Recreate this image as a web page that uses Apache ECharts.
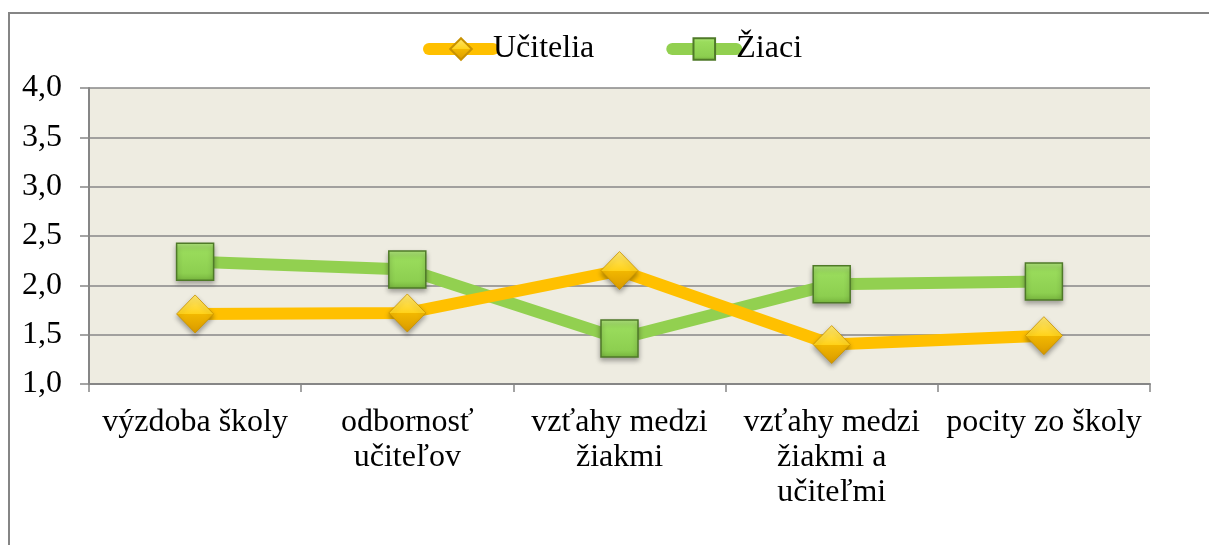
<!DOCTYPE html>
<html>
<head>
<meta charset="utf-8">
<script src="https://cdn.jsdelivr.net/npm/echarts@6/dist/echarts.min.js"></script>
<style>
html,body{margin:0;padding:0;background:#fff;}
#c{width:1209px;height:545px;}
</style>
</head>
<body>
<div id="c"></div>
<script>
const categories = ['výzdoba školy', 'odbornosť\nučiteľov', 'vzťahy medzi\nžiakmi', 'vzťahy medzi\nžiakmi a\nučiteľmi', 'pocity zo školy'];
const seriesNames = ['Učitelia', 'Žiaci'];
const ucitelia = [1.71, 1.72, 2.15, 1.40, 1.49];
const ziaci = [2.24, 2.16, 1.46, 2.01, 2.04];
const yMin = 1.0, yMax = 4.0, yStep = 0.5;

const font = 'Liberation Serif, Times New Roman, serif';
const chart = echarts.init(document.getElementById('c'), null, {renderer: 'canvas'});

const diamondFill = new echarts.graphic.LinearGradient(0, 0, 0, 1, [
  {offset: 0, color: '#FFE873'}, {offset: 0.5, color: '#FFD21A'},
  {offset: 0.5, color: '#F2B800'}, {offset: 1, color: '#D99A00'}
]);
const squareFill = new echarts.graphic.LinearGradient(0, 0, 0, 1, [
  {offset: 0, color: '#B4EA80'}, {offset: 0.2, color: '#9ADC5C'},
  {offset: 0.8, color: '#8DCF50'}, {offset: 1, color: '#77B53E'}
]);

chart.setOption({
  animation: false,
  textStyle: {fontFamily: font, color: '#000'},
  graphic: [{
    type: 'polyline',
    shape: {points: [[9, 560], [9, 13], [1220, 13]]},
    style: {stroke: '#858585', lineWidth: 2, fill: null}
  }],
  legend: {
    top: 28,
    left: 418,
    itemWidth: 64,
    itemHeight: 27,
    itemGap: 72,
    lineStyle: {width: 12, cap: 'round'},
    textStyle: {fontSize: 32, fontFamily: font, color: '#000', padding: [0, 0, 0, -5]},
    data: seriesNames
  },
  grid: {
    left: 89, right: 59, top: 88, bottom: 161,
    show: true, backgroundColor: '#EEECE1', borderWidth: 0
  },
  xAxis: {
    type: 'category',
    data: categories,
    boundaryGap: true,
    axisLine: {lineStyle: {color: '#868686', width: 2}},
    axisTick: {show: true, length: 8, lineStyle: {color: '#868686', width: 1.5}},
    axisLabel: {fontSize: 32, fontFamily: font, color: '#000', margin: 21, lineHeight: 35, interval: 0}
  },
  yAxis: {
    type: 'value',
    min: yMin, max: yMax, interval: yStep,
    axisLine: {show: true, lineStyle: {color: '#868686', width: 2}},
    axisTick: {show: true, length: 9, lineStyle: {color: '#868686', width: 1.5}},
    axisLabel: {fontSize: 32, fontFamily: font, color: '#000', margin: 27,
      formatter: v => v.toFixed(1).replace('.', ',')},
    splitLine: {show: true, lineStyle: {color: '#878787', width: 1.5}}
  },
  series: [
    {
      name: seriesNames[0], type: 'line', data: ucitelia,
      symbol: 'diamond', symbolSize: [37, 38],
      lineStyle: {color: '#FFC000', width: 12},
      itemStyle: {color: diamondFill, borderColor: '#C89200', borderWidth: 0.8,
        shadowColor: 'rgba(0,0,0,0.35)', shadowBlur: 5, shadowOffsetY: 3},
      z: 3
    },
    {
      name: seriesNames[1], type: 'line', data: ziaci,
      symbol: 'rect', symbolSize: 37,
      lineStyle: {color: '#92D050', width: 12},
      itemStyle: {color: squareFill, borderColor: '#4F7A28', borderWidth: 1.5,
        shadowColor: 'rgba(0,0,0,0.35)', shadowBlur: 5, shadowOffsetY: 3},
      z: 2
    }
  ]
});
</script>
</body>
</html>
